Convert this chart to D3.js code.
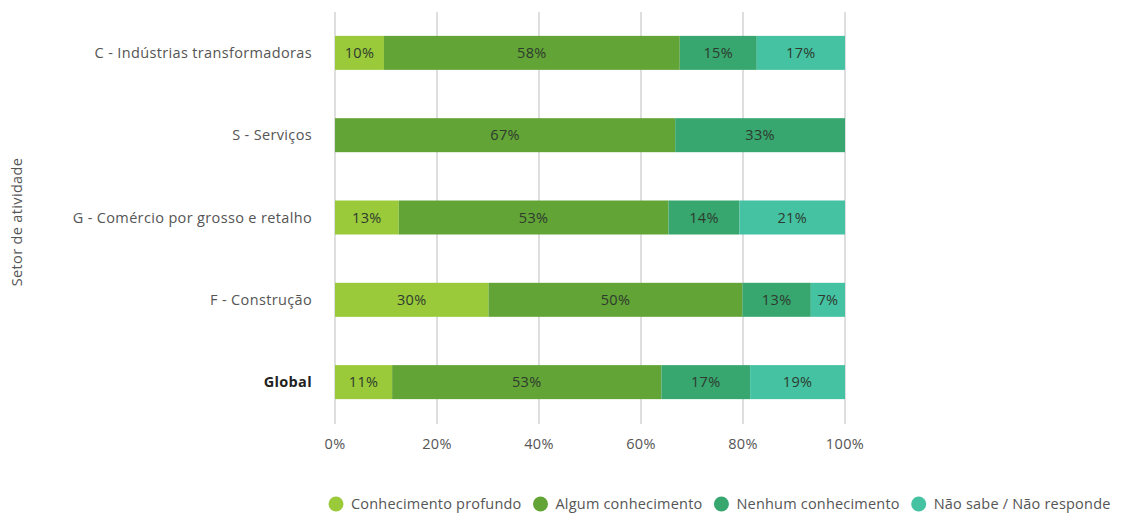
<!DOCTYPE html>
<html>
<head>
<meta charset="utf-8">
<script src="https://cdn.jsdelivr.net/npm/d3@7"></script>
<style>
  body { margin: 0; background: #fff; }
  svg { font-family: "Open Sans", Roboto, sans-serif; }
</style>
</head>
<body>
<div id="chart"></div>
<script>
const categories = [
  'C - Indústrias transformadoras',
  'S - Serviços',
  'G - Comércio por grosso e retalho',
  'F - Construção',
  'Global'
];
const seriesNames = ['Conhecimento profundo', 'Algum conhecimento', 'Nenhum conhecimento', 'Não sabe / Não responde'];
const profundo  = [9.6, 0, 12.5, 30.1, 11.2];
const algum     = [58.0, 66.7, 52.9, 49.8, 52.8];
const nenhum    = [15.1, 33.3, 13.9, 13.4, 17.4];
const naoSabe   = [17.3, 0, 20.7, 6.7, 18.6];
const xTicks = [0, 20, 40, 60, 80, 100];
const colors = ['#9aca3a', '#62a436', '#37a66f', '#44c2a2'];

const width = 1135, height = 514;
const fs = 14.5;
const svg = d3.select('#chart').append('svg')
  .attr('width', width).attr('height', height)
  .style('letter-spacing', '0.35px');

const x = d3.scaleLinear().domain([0, 100]).range([335, 845]);
const y = d3.scaleBand().domain(categories).range([12, 423])
  .paddingInner(0.587).paddingOuter(0.29);

// gridlines
svg.append('g').selectAll('line').data(xTicks).join('line')
  .attr('x1', d => x(d)).attr('x2', d => x(d))
  .attr('y1', 12).attr('y2', 424)
  .attr('stroke', '#c8c8c8').attr('stroke-width', 1.2);

// x tick labels
svg.append('g').selectAll('text').data(xTicks).join('text')
  .attr('x', d => x(d)).attr('y', 449)
  .attr('text-anchor', 'middle')
  .attr('font-size', fs).attr('fill', '#555')
  .text(d => d + '%');

// stacked data
const rows = categories.map((c, i) => ({
  cat: c, v: [profundo[i], algum[i], nenhum[i], naoSabe[i]]
}));
const keys = [0, 1, 2, 3];
const stack = d3.stack().keys(keys).value((d, k) => d.v[k]);
const layers = stack(rows);

const gBars = svg.append('g');
layers.forEach((layer, k) => {
  const g = gBars.append('g');
  g.selectAll('rect').data(layer.filter(d => d[1] - d[0] > 0)).join('rect')
    .attr('x', d => x(d[0]))
    .attr('y', d => y(d.data.cat))
    .attr('width', d => x(d[1]) - x(d[0]))
    .attr('height', y.bandwidth())
    .attr('fill', colors[k]);
  g.selectAll('text').data(layer.filter(d => d[1] - d[0] > 0)).join('text')
    .attr('x', d => (x(d[0]) + x(d[1])) / 2)
    .attr('y', d => y(d.data.cat) + y.bandwidth() / 2)
    .attr('dy', '0.35em')
    .attr('text-anchor', 'middle')
    .attr('font-size', fs).attr('fill', '#2e3a2e')
    .text(d => Math.round(d[1] - d[0]) + '%');
});

// category labels
svg.append('g').selectAll('text').data(categories).join('text')
  .attr('x', 312)
  .attr('y', d => y(d) + y.bandwidth() / 2)
  .attr('dy', '0.35em')
  .attr('text-anchor', 'end')
  .attr('font-size', fs)
  .attr('font-weight', d => d === 'Global' ? 'bold' : 'normal')
  .attr('fill', d => d === 'Global' ? '#222' : '#555')
  .text(d => d);

// y title
svg.append('text')
  .attr('transform', 'translate(22,222) rotate(-90)')
  .attr('text-anchor', 'middle')
  .attr('font-size', fs).attr('fill', '#555')
  .text('Setor de atividade');

// legend
const legend = svg.append('g').style('letter-spacing', '0.2px');
let lx = 336;
seriesNames.forEach((name, k) => {
  legend.append('circle').attr('cx', lx).attr('cy', 504).attr('r', 7.5).attr('fill', colors[k]);
  const t = legend.append('text')
    .attr('x', lx + 15).attr('y', 504).attr('dy', '0.35em')
    .attr('font-size', fs).attr('fill', '#555')
    .text(name);
  lx += 15 + t.node().getComputedTextLength() + 19;
});
</script>
</body>
</html>
